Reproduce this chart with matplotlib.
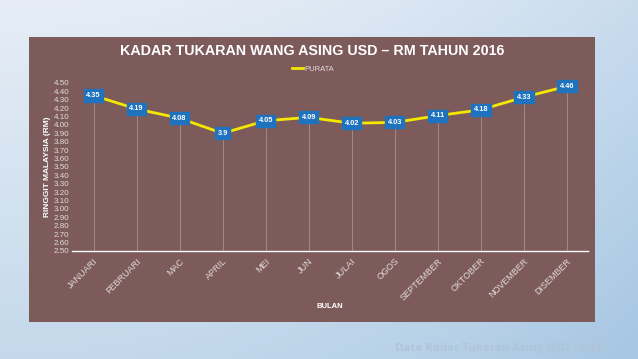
import numpy as np
from matplotlib import pyplot as plt
from matplotlib.patches import Rectangle
from matplotlib.colors import to_rgb

# Data
months = ['JANUARI', 'FEBRUARI', 'MAC', 'APRIL', 'MEI', 'JUN', 'JULAI',
          'OGOS', 'SEPTEMBER', 'OKTOBER', 'NOVEMBER', 'DISEMBER']
purata = [4.35, 4.19, 4.08, 3.9, 4.05, 4.09, 4.02, 4.03, 4.11, 4.18, 4.33, 4.46]
value_labels = ['4.35', '4.19', '4.08', '3.9', '4.05', '4.09', '4.02', '4.03',
                '4.11', '4.18', '4.33', '4.46']
yticks = np.round(np.arange(2.5, 4.501, 0.1), 2)

plt.rcParams['font.family'] = ['Liberation Sans', 'DejaVu Sans']

panel = '#7D5B5A'
tick_col = '#E2DADA'

fig = plt.figure(figsize=(6.38, 3.59), dpi=100)

# slide background: pale at top, bluer towards bottom and right
bg = fig.add_axes([0, 0, 1, 1], zorder=-10)
gx, gy = np.meshgrid(np.linspace(0, 1, 200), np.linspace(0, 1, 120))
tl, tr = np.array(to_rgb('#E6EDF6')), np.array(to_rgb('#C9DCEE'))
bl, br = np.array(to_rgb('#C4D9EB')), np.array(to_rgb('#A6C6E3'))
wx = (gx ** 2)[..., None]
wy = gy[..., None]
img = (1 - wy) * ((1 - wx) * tl + wx * tr) + wy * ((1 - wx) * bl + wx * br)
bg.imshow(img, aspect='auto', extent=(0, 1, 0, 1), origin='upper')
bg.set_axis_off()

# brown chart panel
fig.patches.append(Rectangle((29 / 638, 1 - 322 / 359), 566 / 638, 285 / 359,
                             transform=fig.transFigure,
                             facecolor=panel, edgecolor='none', zorder=-5))

ax = fig.add_axes([0.113, 0.301, 0.809, 0.468])
ax.set_facecolor('none')
x = np.arange(len(months))

# drop lines
ax.vlines(x, 2.5, purata, colors='#B8A8A8', linewidth=0.6, alpha=0.7)
ax.plot(x, purata, color='#F5E800', linewidth=2.0, label='PURATA', zorder=3)

for xi, v, s in zip(x, purata, value_labels):
    ax.text(xi, v, s, ha='center', va='center', fontsize=5.3, color='white',
            fontweight='bold', zorder=5,
            bbox=dict(boxstyle='square,pad=0.35', facecolor='#1F72BD', edgecolor='#1F72BD'))

ax.set_xlim(-0.5, len(months) - 0.5)
ax.set_ylim(2.5, 4.5)
ax.set_yticks(yticks)
ax.set_yticklabels(['%.2f' % t for t in yticks], fontsize=5.8, color=tick_col)
ax.set_xticks(x)
ax.set_xticklabels(months, rotation=45, ha='right', va='top', rotation_mode='anchor',
                   fontsize=6.5, color=tick_col)
ax.tick_params(axis='both', length=0, pad=2)
ax.tick_params(axis='x', pad=4)
for s in ['top', 'right', 'left']:
    ax.spines[s].set_visible(False)
ax.spines['bottom'].set_color('white')
ax.spines['bottom'].set_linewidth(1.0)

ax.set_ylabel('RINGGIT MALAYSIA (RM)', fontsize=6, color='white', fontweight='bold', labelpad=2)
fig.text(0.517, 0.145, 'BULAN', ha='center', va='center', fontsize=5.5,
         color='white', fontweight='bold')

fig.text(312 / 638, 1 - 51 / 359, 'KADAR TUKARAN WANG ASING USD – RM TAHUN 2016', ha='center',
         va='center', fontsize=10.3, color='white', fontweight='bold')
leg = ax.legend(loc='lower center', bbox_to_anchor=(0.467, 1.02), frameon=False,
                fontsize=5.5, handlelength=1.4, handletextpad=0.2)
for t in leg.get_texts():
    t.set_color(tick_col)

fig.text(605 / 638, 1 - 348 / 359, 'Data Kadar Tukaran Asing USD - MYR', ha='right', va='center',
         fontsize=8.2, color='#B1C4D8', fontweight='bold', family=['Open Sans', 'DejaVu Sans'])

fig.savefig('out.png', dpi=100)
